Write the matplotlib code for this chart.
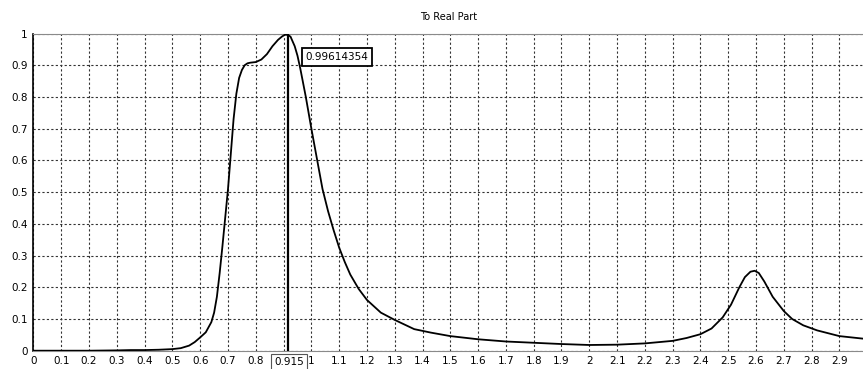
import matplotlib.pyplot as plt
from matplotlib.ticker import MultipleLocator

# frequency axis and response
freq = [0, 0.1, 0.2, 0.3, 0.35, 0.4, 0.45, 0.5, 0.53, 0.56, 0.58, 0.6, 0.62,
        0.64, 0.65, 0.66, 0.67, 0.68, 0.69, 0.70, 0.71, 0.72, 0.73, 0.74,
        0.75, 0.76, 0.77, 0.78, 0.80, 0.82, 0.84, 0.86, 0.88, 0.895, 0.905,
        0.915, 0.925, 0.94, 0.95, 0.96, 0.98, 1.0, 1.02, 1.04, 1.06, 1.08,
        1.1, 1.12, 1.14, 1.17, 1.2, 1.25, 1.3, 1.37, 1.43, 1.5, 1.6, 1.7,
        1.8, 1.9, 2.0, 2.1, 2.2, 2.3, 2.35, 2.4, 2.44, 2.48, 2.51, 2.54,
        2.56, 2.58, 2.595, 2.61, 2.63, 2.66, 2.7, 2.73, 2.77, 2.82, 2.9, 2.985]
real_part = [0, 0, 0, 0.001, 0.002, 0.002, 0.003, 0.005, 0.008, 0.016, 0.027,
             0.042, 0.058, 0.09, 0.12, 0.17, 0.245, 0.33, 0.42, 0.51, 0.62,
             0.73, 0.81, 0.86, 0.885, 0.9, 0.906, 0.908, 0.91, 0.918, 0.935,
             0.96, 0.98, 0.991, 0.996, 0.996, 0.99, 0.96, 0.93, 0.89, 0.80,
             0.70, 0.605, 0.51, 0.44, 0.38, 0.325, 0.28, 0.24, 0.195, 0.16,
             0.12, 0.097, 0.068, 0.057, 0.046, 0.036, 0.029, 0.025, 0.021,
             0.018, 0.019, 0.023, 0.031, 0.04, 0.052, 0.07, 0.105, 0.145, 0.2,
             0.232, 0.249, 0.252, 0.245, 0.218, 0.17, 0.125, 0.1, 0.08, 0.064,
             0.046, 0.038]

cursor_x = 0.915
cursor_label = "0.915"
cursor_value = "0.99614354"
x_ticks = [round(i * 0.1, 1) for i in range(30) if i != 9]
y_ticks = [round(i * 0.1, 1) for i in range(11)]

fig = plt.figure(figsize=(8.63, 3.69), dpi=100)
ax = fig.add_axes([0.0388, 0.0496, 0.9612, 0.8596])

ax.plot(freq, real_part, color="black", linewidth=1.3, zorder=3)
ax.axvline(cursor_x, color="black", linewidth=1.6, zorder=4)

ax.set_xlim(0, 2.985)
ax.set_ylim(0, 1)
ax.set_xticks(x_ticks)
ax.set_xticklabels([f"{t:g}" for t in x_ticks])
ax.set_yticks(y_ticks)
ax.set_yticklabels([f"{t:g}" for t in y_ticks])
ax.xaxis.set_minor_locator(MultipleLocator(0.1))
ax.tick_params(which="both", length=0, labelsize=7.5, pad=4)
ax.grid(True, which="both", color="#333333", linestyle=(0, (2, 2)), linewidth=0.8)

ax.spines["right"].set_visible(False)
ax.spines["top"].set_color("#8a8a8a")
ax.spines["bottom"].set_color("#8a8a8a")
ax.spines["left"].set_color("black")
ax.spines["left"].set_linewidth(1.2)

ax.set_title("To Real Part", fontsize=7, pad=10)

ax.text(0.98, 0.926, cursor_value, fontsize=7.5, ha="left", va="center",
        bbox=dict(boxstyle="square,pad=0.35", facecolor="white",
                  edgecolor="black", linewidth=1.3), zorder=5)
ax.text(cursor_x + 0.005, -0.037, cursor_label, fontsize=7.5, ha="center", va="center",
        transform=ax.get_xaxis_transform(),
        bbox=dict(boxstyle="square,pad=0.3", facecolor="white",
                  edgecolor="#555555", linewidth=0.8), clip_on=False)

plt.savefig("out.png", dpi=100)
